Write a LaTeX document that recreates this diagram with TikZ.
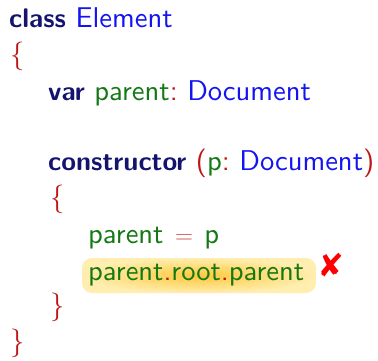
\documentclass[tikz,border=0pt]{standalone}
\usepackage{fontspec}
\usepackage{pifont}
\setsansfont{lmsans10-regular.otf}[BoldFont=lmsans10-bold.otf,BoldFeatures={Scale=0.94}]
\renewcommand{\familydefault}{\sfdefault}
\frenchspacing
\definecolor{kwnavy}{RGB}{20,20,110}
\definecolor{tyblue}{RGB}{20,20,240}
\definecolor{idgreen}{RGB}{20,120,20}
\definecolor{puncred}{RGB}{190,20,20}
\definecolor{hlcore}{RGB}{255,200,60}
\definecolor{hledge}{RGB}{255,238,175}
\tikzset{
  codeline/.style={anchor=base west, inner sep=0pt, font=\fontsize{28.6}{30}\selectfont},
  hilite/.style={rounded corners=10pt, inner color=hlcore, outer color=hledge},
}
\newcommand{\kwd}[1]{\textcolor{kwnavy}{\textbf{#1}}}
\newcommand{\typ}[1]{\textcolor{tyblue}{#1}}
\newcommand{\ide}[1]{\textcolor{idgreen}{#1}}
\newcommand{\pnc}[1]{\textcolor{puncred}{#1}}
\begin{document}
\begin{tikzpicture}[x=1pt,y=-1pt]
  \useasboundingbox (0,0) rectangle (378,360);
  % highlight behind the second statement
  \shade[hilite] (82,258) rectangle (316,293);
  \node[codeline] (l0) at (9,27) {\kwd{class} \typ{Element}};
  \node[codeline] (l1) at (10,63) {\pnc{\{}};
  \node[codeline] (l2) at (48,100) {\kwd{var} \ide{parent}\pnc{:} \typ{Document}};
  \node[codeline] (l4) at (48,170) {\kwd{constructor} \pnc{(}\ide{p}\pnc{:} \typ{Document}\pnc{)}};
  \node[codeline] (l5) at (50,206) {\pnc{\{}};
  \node[codeline] (l6) at (88,243) {\ide{parent}\hspace{2pt} \textcolor{puncred!75}{$=$}\hspace{2pt} \ide{p}};
  \node[codeline] (l7) at (88,280) {\ide{parent}\pnc{.}\ide{root}\pnc{.}\ide{parent}};
  \node[codeline, text=red, font=\fontsize{33}{33}\selectfont] (mark) at (320,276) {\ding{56}};
  \node[codeline] (l8) at (50,314) {\pnc{\}}};
  \node[codeline] (l9) at (10,350) {\pnc{\}}};
\end{tikzpicture}
\end{document}
